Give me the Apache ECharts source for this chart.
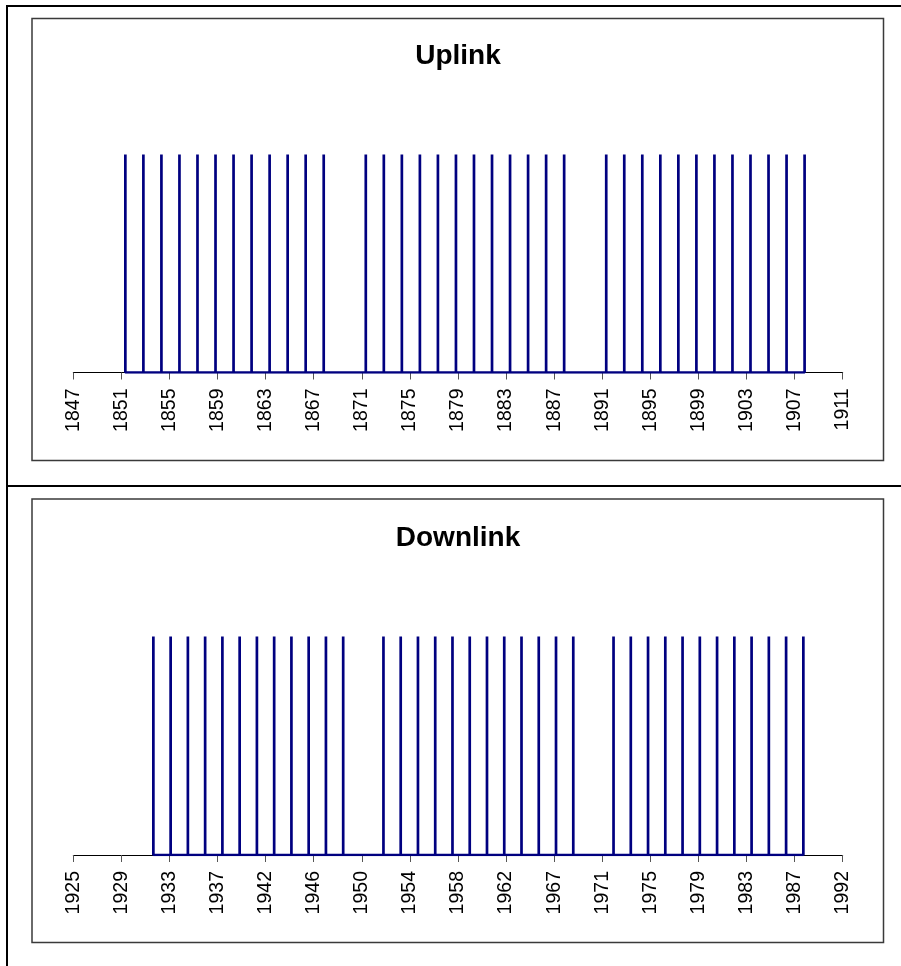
<!DOCTYPE html>
<html>
<head>
<meta charset="utf-8">
<script src="https://cdn.jsdelivr.net/npm/echarts@6/dist/echarts.min.js"></script>
<style>
  html, body { margin: 0; padding: 0; background: #fff; }
  #chart { width: 901px; height: 966px; }
</style>
</head>
<body>
<div id="chart"></div>
<script>
// Event times (years) for each link; every event is drawn as a unit spike.
const uplinkEvents = [
  1851.33, 1852.83, 1854.33, 1855.83, 1857.33, 1858.83, 1860.33, 1861.83, 1863.33, 1864.83, 1866.33, 1867.83,
  1871.33, 1872.83, 1874.33, 1875.83, 1877.33, 1878.83, 1880.33, 1881.83, 1883.33, 1884.83, 1886.33, 1887.83,
  1891.33, 1892.83, 1894.33, 1895.83, 1897.33, 1898.83, 1900.33, 1901.83, 1903.33, 1904.83, 1906.33, 1907.83
];
const downlinkEvents = [
  1931.75, 1933.25, 1934.75, 1936.25, 1937.75, 1939.25, 1940.75, 1942.25, 1943.75, 1945.25, 1946.75, 1948.25,
  1951.75, 1953.25, 1954.75, 1956.25, 1957.75, 1959.25, 1960.75, 1962.25, 1963.75, 1965.25, 1966.75, 1968.25,
  1971.75, 1973.25, 1974.75, 1976.25, 1977.75, 1979.25, 1980.75, 1982.25, 1983.75, 1985.25, 1986.75, 1988.25
];
const spikeHeight = 1;

// Axis ranges and tick labels
const uplinkRange = [1847, 1911];
const uplinkTicks = ['1847', '1851', '1855', '1859', '1863', '1867', '1871', '1875', '1879',
                     '1883', '1887', '1891', '1895', '1899', '1903', '1907', '1911'];
const downlinkRange = [1924.79, 1991.67];
const downlinkTicks = ['1925', '1929', '1933', '1937', '1942', '1946', '1950', '1954', '1958',
                       '1962', '1967', '1971', '1975', '1979', '1983', '1987', '1992'];

const NAVY = '#000080';
const FONT = '"Liberation Sans", Arial, sans-serif';

// Spike train: baseline -> spike up -> back to baseline at each event
function spikePath(events) {
  const pts = [];
  events.forEach(function (t) {
    pts.push([t, 0], [t, spikeHeight], [t, 0]);
  });
  return pts;
}

function tickPositions(range, labels) {
  const n = labels.length - 1;
  const step = (range[1] - range[0]) / n;
  return labels.map(function (_, i) { return range[0] + i * step; });
}

function makeXAxis(gridIndex, range, labels) {
  const ticks = tickPositions(range, labels);
  const step = (range[1] - range[0]) / (labels.length - 1);
  return {
    type: 'value',
    gridIndex: gridIndex,
    min: range[0],
    max: range[1],
    axisLine: { show: true, onZero: false, lineStyle: { color: '#000', width: 1 } },
    axisTick: { show: true, length: 7, customValues: ticks, lineStyle: { color: '#555', width: 1 } },
    axisLabel: {
      show: true,
      customValues: ticks,
      rotate: 90,
      margin: 16,
      color: '#000',
      fontFamily: FONT,
      fontSize: 19.5,
      padding: [0, 0, 5, 0],
      formatter: function (v) {
        return labels[Math.round((v - range[0]) / step)];
      }
    },
    splitLine: { show: false }
  };
}

function makeYAxis(gridIndex) {
  return { type: 'value', gridIndex: gridIndex, min: 0, max: spikeHeight, show: false };
}

function makeSeries(idx, events) {
  return {
    type: 'line',
    xAxisIndex: idx,
    yAxisIndex: idx,
    data: spikePath(events),
    showSymbol: false,
    symbol: 'none',
    lineStyle: { color: NAVY, width: 2.7, cap: 'butt', join: 'bevel' },
    z: 5
  };
}

const chart = echarts.init(document.getElementById('chart'), null, { renderer: 'canvas' });

chart.setOption({
  animation: false,
  backgroundColor: '#fff',
  grid: [
    { left: 73.3, width: 769.4, top: 154.5, height: 218 },
    { left: 73.3, width: 769.4, top: 636.5, height: 218.5 }
  ],
  xAxis: [
    makeXAxis(0, uplinkRange, uplinkTicks),
    makeXAxis(1, downlinkRange, downlinkTicks)
  ],
  yAxis: [makeYAxis(0), makeYAxis(1)],
  series: [
    makeSeries(0, uplinkEvents),
    makeSeries(1, downlinkEvents)
  ],
  graphic: [
    // outer frame and panel separator
    { type: 'line', shape: { x1: 7, y1: 5, x2: 7, y2: 966 }, style: { stroke: '#000', lineWidth: 2 }, z: 10 },
    { type: 'line', shape: { x1: 6, y1: 6, x2: 901, y2: 6 }, style: { stroke: '#000', lineWidth: 2 }, z: 10 },
    { type: 'line', shape: { x1: 6, y1: 486, x2: 901, y2: 486 }, style: { stroke: '#000', lineWidth: 2 }, z: 10 },
    // panel boxes
    { type: 'rect', shape: { x: 32, y: 18.5, width: 851.5, height: 442 },
      style: { fill: 'none', stroke: '#3a3a3a', lineWidth: 1.5 }, z: 10 },
    { type: 'rect', shape: { x: 32, y: 499, width: 851.5, height: 443.5 },
      style: { fill: 'none', stroke: '#3a3a3a', lineWidth: 1.5 }, z: 10 },
    // panel titles
    { type: 'text', x: 458, y: 56.3, z: 10,
      style: { text: 'Uplink', fill: '#000', font: 'bold 28px ' + FONT, align: 'center', verticalAlign: 'middle' } },
    { type: 'text', x: 458, y: 538.7, z: 10,
      style: { text: 'Downlink', fill: '#000', font: 'bold 28px ' + FONT, align: 'center', verticalAlign: 'middle' } }
  ]
});
</script>
</body>
</html>
